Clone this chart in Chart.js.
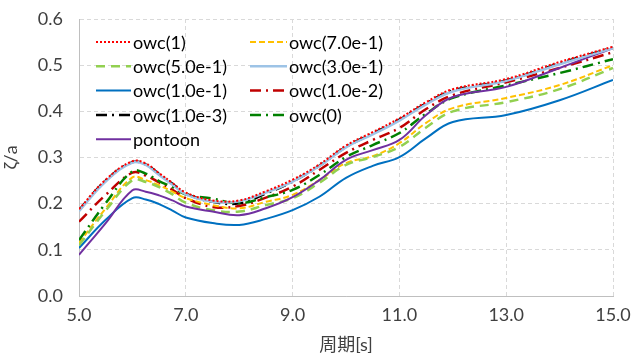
<!DOCTYPE html>
<html>
<head>
<meta charset="utf-8">
<script src="https://cdn.jsdelivr.net/npm/chart.js@4"></script>
<style>
  html, body { margin: 0; padding: 0; background: #fff; }
  #wrap { width: 634px; height: 356px; }
</style>
</head>
<body>
<div id="wrap"><canvas id="grafico"></canvas></div>
<script>
// periods [s]
const periodo = [5, 5.5, 6, 6.25, 6.5, 6.75, 7, 7.5, 8, 8.5, 9, 9.5, 10, 10.5, 11, 11.5, 12, 13, 14, 15];

const owc1     = [0.188, 0.252, 0.292, 0.287, 0.266, 0.245, 0.224, 0.207, 0.207, 0.227, 0.252, 0.285, 0.326, 0.355, 0.385, 0.420, 0.448, 0.470, 0.507, 0.540];
const owc7e1   = [0.115, 0.190, 0.257, 0.251, 0.240, 0.226, 0.212, 0.197, 0.190, 0.204, 0.219, 0.251, 0.288, 0.303, 0.331, 0.375, 0.407, 0.429, 0.457, 0.500];
const owc5e1   = [0.110, 0.185, 0.251, 0.247, 0.236, 0.220, 0.202, 0.186, 0.183, 0.197, 0.212, 0.245, 0.284, 0.301, 0.323, 0.365, 0.400, 0.420, 0.448, 0.494];
const owc3e1   = [0.184, 0.248, 0.289, 0.284, 0.262, 0.241, 0.220, 0.204, 0.205, 0.224, 0.248, 0.281, 0.322, 0.350, 0.380, 0.415, 0.443, 0.466, 0.502, 0.537];
const owc1e1   = [0.104, 0.165, 0.212, 0.209, 0.199, 0.185, 0.170, 0.158, 0.154, 0.167, 0.186, 0.215, 0.256, 0.282, 0.301, 0.342, 0.377, 0.392, 0.424, 0.468];
const owc1e2   = [0.161, 0.219, 0.267, 0.261, 0.246, 0.230, 0.212, 0.193, 0.195, 0.213, 0.237, 0.273, 0.310, 0.338, 0.364, 0.405, 0.435, 0.463, 0.494, 0.528];
const owc1e3   = [0.186, 0.250, 0.290, 0.285, 0.264, 0.243, 0.222, 0.204, 0.201, 0.222, 0.248, 0.282, 0.323, 0.352, 0.382, 0.417, 0.445, 0.467, 0.504, 0.538];
const owc0     = [0.121, 0.201, 0.270, 0.265, 0.249, 0.236, 0.220, 0.211, 0.201, 0.214, 0.230, 0.262, 0.301, 0.327, 0.353, 0.395, 0.429, 0.456, 0.483, 0.513];
const pontoon  = [0.089, 0.158, 0.229, 0.226, 0.218, 0.207, 0.194, 0.183, 0.175, 0.190, 0.214, 0.251, 0.295, 0.316, 0.338, 0.392, 0.431, 0.453, 0.494, 0.537];

const rotulos = ['owc(1)', 'owc(7.0e-1)', 'owc(5.0e-1)', 'owc(3.0e-1)', 'owc(1.0e-1)',
                 'owc(1.0e-2)', 'owc(1.0e-3)', 'owc(0)', 'pontoon'];
const series = [owc1, owc7e1, owc5e1, owc3e1, owc1e1, owc1e2, owc1e3, owc0, pontoon];

const estilos = [
    { cor: '#ff0000', dash: [2, 2],          w: 2 },
    { cor: '#ffc000', dash: [6, 3],          w: 2 },
    { cor: '#92d050', dash: [9, 6],          w: 2.5 },
    { cor: '#9dc3e6', dash: [],              w: 2.5 },
    { cor: '#0070c0', dash: [],              w: 2 },
    { cor: '#c00000', dash: [11, 5, 2, 5],   w: 2.5 },
    { cor: '#000000', dash: [11, 5, 2, 5],   w: 2.5 },
    { cor: '#008000', dash: [11, 5, 2, 5],   w: 2.5 },
    { cor: '#7030a0', dash: [],              w: 2 }
];

const FONTE = 'Lato, "Noto Sans CJK JP", sans-serif';
// draw order: top lines drawn last
const ordem = [0, 5, 4, 1, 8, 6, 7, 3, 2];

const datasets = series.map((vals, i) => ({
    label: rotulos[i],
    data: periodo.map((x, k) => ({ x: x, y: vals[k] })),
    borderColor: estilos[i].cor,
    borderDash: estilos[i].dash,
    borderWidth: estilos[i].w,
    pointRadius: 0,
    fill: false,
    tension: 0.4,
    order: ordem[i]
}));

// legend drawn inside the plot area, 2 columns
const legendaInterna = {
    id: 'legendaInterna',
    afterDraw(chart) {
        const c = chart.ctx;
        const a = chart.chartArea;
        c.save();
        c.font = '18px ' + FONTE;
        c.textBaseline = 'middle';
        c.fillStyle = '#000';
        chart.data.datasets.forEach((ds, i) => {
            const col = i % 2;
            const row = Math.floor(i / 2);
            const x0 = a.left + (col === 0 ? 17 : 171);
            const x1 = x0 + (col === 0 ? 35 : 37);
            const y = a.top + 23 + row * 24.3;
            c.strokeStyle = ds.borderColor;
            c.lineWidth = ds.borderWidth;
            c.setLineDash(ds.borderDash);
            c.beginPath();
            c.moveTo(x0, y);
            c.lineTo(x1, y);
            c.stroke();
            c.setLineDash([]);
            c.fillText(ds.label, x1 + 2, y + 1);
        });
        c.restore();
    }
};

new Chart(document.getElementById('grafico'), {
    type: 'line',
    data: { datasets: datasets },
    plugins: [legendaInterna],
    options: {
        responsive: true,
        maintainAspectRatio: false,
        animation: false,
        layout: { padding: { top: 19, right: 21, left: 0, bottom: 0 } },
        plugins: {
            legend: { display: false },
            tooltip: { enabled: false }
        },
        scales: {
            x: {
                type: 'linear',
                min: 5,
                max: 15,
                ticks: {
                    stepSize: 2,
                    color: '#404040',
                    font: { family: FONTE, size: 18 },
                    padding: 8,
                    maxRotation: 0,
                    callback: (v) => v.toFixed(1)
                },
                grid: { color: '#d9d9d9', drawTicks: false },
                border: { display: true, color: '#bfbfbf', dash: [4, 3] },
                title: {
                    display: true,
                    text: '周期[s]',
                    color: '#404040',
                    font: { family: FONTE, size: 18 },
                    padding: { top: 0, bottom: 0 }
                },
                afterFit: (s) => {
                    s.height = 60;
                    s.paddingLeft = 0;
                    s.paddingRight = 0;
                }
            },
            y: {
                min: 0,
                max: 0.6,
                ticks: {
                    stepSize: 0.1,
                    color: '#404040',
                    font: { family: FONTE, size: 18 },
                    padding: 16,
                    callback: (v) => v.toFixed(1)
                },
                grid: { color: '#d9d9d9', drawTicks: false },
                border: { display: true, color: '#bfbfbf', dash: [4, 3] },
                title: {
                    display: true,
                    text: 'ζ/a',
                    color: '#404040',
                    font: { family: FONTE, size: 18 },
                    padding: { top: 0, bottom: 0 }
                },
                afterFit: (s) => {
                    s.width = 79;
                    s.paddingTop = 0;
                    s.paddingBottom = 0;
                }
            }
        }
    }
});
</script>
</body>
</html>
